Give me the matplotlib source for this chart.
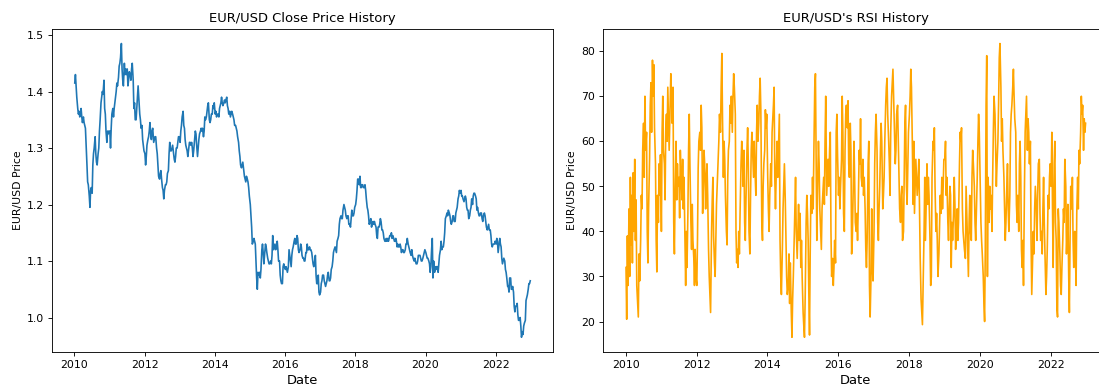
import matplotlib
matplotlib.use("Agg")
import matplotlib.pyplot as plt
import numpy as np
import pandas as pd

# Weekly-ish EUR/USD closes, 4 readings per month (Jan..Dec), one list per year
close_2010 = [1.415, 1.43, 1.41, 1.39, 1.37, 1.36, 1.365, 1.355, 1.36, 1.37, 1.355, 1.345,
              1.355, 1.345, 1.34, 1.335, 1.30, 1.27, 1.24, 1.235, 1.215, 1.195, 1.225, 1.23,
              1.22, 1.27, 1.29, 1.30, 1.32, 1.29, 1.275, 1.27, 1.29, 1.30, 1.33, 1.35,
              1.38, 1.39, 1.40, 1.395, 1.42, 1.37, 1.36, 1.33, 1.31, 1.33, 1.325, 1.33]
close_2011 = [1.33, 1.30, 1.335, 1.36, 1.37, 1.355, 1.37, 1.38, 1.39, 1.40, 1.415, 1.41,
              1.425, 1.445, 1.45, 1.46, 1.485, 1.44, 1.42, 1.41, 1.45, 1.43, 1.44, 1.43,
              1.44, 1.41, 1.42, 1.435, 1.43, 1.42, 1.44, 1.45, 1.42, 1.37, 1.38, 1.35,
              1.35, 1.37, 1.39, 1.41, 1.38, 1.36, 1.35, 1.335, 1.34, 1.315, 1.305, 1.295]
close_2012 = [1.29, 1.27, 1.285, 1.305, 1.315, 1.32, 1.33, 1.345, 1.325, 1.315, 1.33, 1.335,
              1.31, 1.315, 1.32, 1.32, 1.30, 1.29, 1.27, 1.25, 1.245, 1.255, 1.26, 1.245,
              1.23, 1.225, 1.21, 1.225, 1.235, 1.235, 1.24, 1.255, 1.26, 1.29, 1.31, 1.295,
              1.295, 1.30, 1.305, 1.295, 1.28, 1.275, 1.285, 1.30, 1.30, 1.31, 1.32, 1.32]
close_2013 = [1.31, 1.33, 1.34, 1.355, 1.365, 1.34, 1.335, 1.315, 1.305, 1.30, 1.295, 1.285,
              1.30, 1.31, 1.31, 1.305, 1.31, 1.30, 1.285, 1.295, 1.315, 1.33, 1.325, 1.305,
              1.285, 1.30, 1.315, 1.325, 1.33, 1.335, 1.33, 1.335, 1.32, 1.33, 1.355, 1.35,
              1.355, 1.365, 1.375, 1.38, 1.35, 1.345, 1.35, 1.36, 1.36, 1.375, 1.37, 1.38]
close_2014 = [1.36, 1.365, 1.355, 1.36, 1.36, 1.355, 1.37, 1.375, 1.38, 1.39, 1.38, 1.375,
              1.38, 1.385, 1.38, 1.385, 1.39, 1.375, 1.37, 1.36, 1.365, 1.355, 1.36, 1.365,
              1.36, 1.355, 1.35, 1.34, 1.34, 1.335, 1.33, 1.32, 1.31, 1.295, 1.285, 1.27,
              1.265, 1.27, 1.275, 1.265, 1.25, 1.245, 1.24, 1.25, 1.245, 1.24, 1.23, 1.215]
close_2015 = [1.20, 1.18, 1.16, 1.13, 1.135, 1.14, 1.135, 1.13, 1.10, 1.07, 1.05, 1.08,
              1.075, 1.08, 1.07, 1.085, 1.12, 1.13, 1.115, 1.095, 1.115, 1.13, 1.125, 1.115,
              1.105, 1.10, 1.095, 1.095, 1.10, 1.095, 1.11, 1.145, 1.12, 1.125, 1.13, 1.12,
              1.125, 1.135, 1.12, 1.10, 1.10, 1.075, 1.065, 1.06, 1.06, 1.09, 1.095, 1.09]
close_2016 = [1.085, 1.09, 1.085, 1.08, 1.09, 1.12, 1.11, 1.10, 1.09, 1.11, 1.12, 1.125,
              1.135, 1.14, 1.13, 1.13, 1.145, 1.14, 1.12, 1.115, 1.12, 1.13, 1.125, 1.11,
              1.105, 1.105, 1.10, 1.10, 1.115, 1.115, 1.13, 1.12, 1.12, 1.125, 1.12, 1.12,
              1.115, 1.105, 1.095, 1.09, 1.10, 1.11, 1.075, 1.06, 1.06, 1.075, 1.045, 1.04]
close_2017 = [1.045, 1.06, 1.065, 1.075, 1.075, 1.065, 1.06, 1.055, 1.06, 1.065, 1.075, 1.08,
              1.065, 1.065, 1.07, 1.085, 1.09, 1.10, 1.115, 1.12, 1.125, 1.12, 1.115, 1.135,
              1.14, 1.145, 1.165, 1.175, 1.18, 1.175, 1.175, 1.19, 1.20, 1.195, 1.19, 1.18,
              1.175, 1.18, 1.18, 1.165, 1.165, 1.16, 1.175, 1.19, 1.18, 1.18, 1.185, 1.195]
close_2018 = [1.20, 1.21, 1.225, 1.245, 1.245, 1.235, 1.25, 1.23, 1.23, 1.235, 1.235, 1.23,
              1.23, 1.235, 1.225, 1.21, 1.195, 1.19, 1.18, 1.165, 1.17, 1.175, 1.16, 1.165,
              1.17, 1.165, 1.17, 1.165, 1.16, 1.145, 1.14, 1.16, 1.16, 1.165, 1.175, 1.17,
              1.155, 1.155, 1.15, 1.14, 1.135, 1.135, 1.14, 1.135, 1.14, 1.135, 1.14, 1.145]
close_2019 = [1.145, 1.15, 1.14, 1.145, 1.14, 1.135, 1.135, 1.14, 1.135, 1.125, 1.13, 1.125,
              1.125, 1.13, 1.125, 1.115, 1.12, 1.12, 1.115, 1.115, 1.12, 1.13, 1.13, 1.14,
              1.13, 1.125, 1.12, 1.115, 1.11, 1.12, 1.11, 1.105, 1.10, 1.105, 1.10, 1.095,
              1.095, 1.10, 1.11, 1.11, 1.11, 1.105, 1.10, 1.10, 1.105, 1.11, 1.115, 1.12]
close_2020 = [1.115, 1.11, 1.105, 1.105, 1.10, 1.095, 1.08, 1.09, 1.12, 1.14, 1.07, 1.10,
              1.08, 1.09, 1.085, 1.09, 1.09, 1.08, 1.095, 1.11, 1.12, 1.135, 1.12, 1.125,
              1.125, 1.135, 1.15, 1.175, 1.18, 1.185, 1.18, 1.19, 1.185, 1.18, 1.17, 1.165,
              1.17, 1.18, 1.18, 1.17, 1.17, 1.185, 1.19, 1.195, 1.21, 1.215, 1.225, 1.22]
close_2021 = [1.225, 1.215, 1.215, 1.21, 1.205, 1.21, 1.215, 1.21, 1.195, 1.19, 1.19, 1.175,
              1.18, 1.19, 1.195, 1.21, 1.20, 1.215, 1.22, 1.22, 1.215, 1.21, 1.19, 1.195,
              1.185, 1.18, 1.18, 1.185, 1.185, 1.175, 1.17, 1.18, 1.185, 1.18, 1.17, 1.16,
              1.155, 1.16, 1.165, 1.155, 1.155, 1.145, 1.13, 1.125, 1.13, 1.13, 1.13, 1.135]
close_2022 = [1.13, 1.14, 1.135, 1.115, 1.13, 1.14, 1.13, 1.125, 1.105, 1.095, 1.10, 1.105,
              1.10, 1.085, 1.08, 1.07, 1.055, 1.055, 1.045, 1.07, 1.07, 1.05, 1.05, 1.055,
              1.045, 1.02, 1.01, 1.02, 1.02, 1.025, 1.005, 0.995, 0.995, 1.00, 0.985, 0.965,
              0.975, 0.97, 0.985, 0.99, 0.995, 1.03, 1.035, 1.04, 1.05, 1.06, 1.06, 1.065]

# RSI readings, same sampling
rsi_2010 = [32, 20.5, 39, 28, 45, 30, 52, 37, 48, 33, 53, 40, 56, 38, 47, 28, 24, 21, 35, 29,
            38, 48, 45, 58, 64, 52, 70, 58, 62, 40, 33, 45, 56, 68, 73, 62, 78, 70, 77, 63,
            55, 38, 31, 48, 42, 55, 48, 57]
rsi_2011 = [40, 62, 70, 58, 55, 47, 63, 66, 60, 72, 65, 58, 68, 75, 70, 64, 72, 42, 35, 48,
            60, 47, 55, 50, 52, 43, 58, 53, 47, 56, 45, 52, 38, 28, 40, 32, 44, 58, 66, 55,
            42, 36, 46, 38, 34, 28, 36, 30]
rsi_2012 = [28, 38, 54, 60, 62, 58, 68, 63, 44, 50, 58, 55, 45, 52, 55, 48, 36, 30, 26, 22,
            40, 47, 52, 39, 33, 30, 38, 46, 52, 56, 60, 66, 62, 72, 79.5, 65, 52, 60, 56, 48,
            40, 37, 52, 58, 60, 68, 64, 70]
rsi_2013 = [62, 70, 75, 72, 66, 40, 33, 36, 32, 40, 35, 44, 55, 60, 57, 50, 58, 42, 38, 47,
            58, 63, 55, 40, 35, 48, 58, 62, 56, 52, 60, 54, 48, 62, 68, 60, 64, 70, 74, 67,
            42, 38, 50, 55, 58, 67, 63, 66]
rsi_2014 = [52, 45, 40, 48, 55, 50, 62, 65, 68, 72, 52, 45, 55, 60, 52, 58, 66, 38, 30, 26,
            36, 45, 50, 55, 47, 38, 30, 26, 28, 35, 24, 33, 22, 16.5, 25, 30, 38, 45, 52, 40,
            34, 40, 46, 38, 44, 32, 38, 30]
rsi_2015 = [22, 19, 16.5, 25, 42, 48, 44, 38, 26, 17, 35, 48, 44, 52, 45, 58, 72, 75, 55, 38,
            52, 60, 55, 45, 40, 36, 45, 48, 52, 46, 60, 70, 48, 52, 56, 50, 58, 62, 40, 30,
            34, 28, 32, 38, 33, 62, 66, 57]
rsi_2016 = [48, 52, 45, 50, 56, 70, 62, 44, 40, 58, 66, 68, 63, 69, 55, 52, 64, 58, 35, 38,
            50, 60, 52, 42, 40, 44, 38, 45, 58, 55, 65, 52, 50, 56, 48, 52, 45, 36, 32, 38,
            55, 60, 28, 21, 30, 45, 32, 29]
rsi_2017 = [40, 55, 62, 66, 58, 42, 38, 45, 50, 58, 64, 60, 45, 48, 52, 60, 68, 72, 74, 66,
            60, 55, 48, 62, 70, 73, 76, 70, 62, 55, 58, 66, 68, 60, 52, 45, 42, 48, 50, 38,
            40, 52, 64, 68, 50, 46, 54, 62]
rsi_2018 = [66, 70, 76, 72, 58, 46, 60, 44, 50, 56, 52, 48, 52, 56, 45, 34, 25, 22, 19.3, 28,
            40, 52, 38, 45, 55, 46, 52, 48, 38, 28, 30, 52, 60, 58, 63, 50, 40, 44, 38, 30,
            35, 42, 48, 44, 52, 45, 50, 56]
rsi_2019 = [56, 60, 48, 52, 42, 38, 45, 50, 48, 32, 42, 38, 44, 52, 46, 36, 40, 45, 38, 42,
            55, 62, 60, 63, 45, 40, 38, 36, 34, 50, 44, 38, 30, 42, 48, 40, 38, 52, 58, 55,
            50, 42, 38, 44, 52, 60, 66, 62]
rsi_2020 = [50, 42, 38, 35, 30, 24, 20, 36, 68, 79, 30, 52, 42, 50, 45, 48, 40, 52, 62, 70,
            66, 58, 50, 55, 60, 68, 78.5, 81.7, 72, 60, 65, 58, 52, 45, 38, 42, 50, 55, 45, 40,
            48, 62, 66, 68, 72, 76, 70, 65]
rsi_2021 = [62, 46, 42, 48, 40, 55, 60, 52, 36, 32, 38, 28, 50, 62, 66, 70, 58, 65, 62, 55,
            60, 38, 26, 32, 40, 35, 45, 50, 45, 38, 48, 55, 56, 44, 38, 40, 35, 45, 52, 42,
            33, 26, 30, 36, 48, 45, 52, 55]
rsi_2022 = [50, 62, 45, 32, 55, 60, 42, 38, 23, 21, 45, 42, 35, 28, 26, 32, 38, 45, 42, 56,
            50, 35, 40, 46, 30, 22, 38, 50, 45, 52, 38, 32, 40, 35, 28, 44, 52, 45, 58, 55,
            62, 70, 66, 68, 58, 65, 62, 64]

years = list(range(2010, 2023))
close_by_year = [close_2010, close_2011, close_2012, close_2013, close_2014, close_2015,
                 close_2016, close_2017, close_2018, close_2019, close_2020, close_2021, close_2022]
rsi_by_year = [rsi_2010, rsi_2011, rsi_2012, rsi_2013, rsi_2014, rsi_2015, rsi_2016,
               rsi_2017, rsi_2018, rsi_2019, rsi_2020, rsi_2021, rsi_2022]
week_days = [4, 11, 18, 25]

dates = pd.DatetimeIndex([pd.Timestamp(y, m, d) for y in years
                          for m in range(1, 13) for d in week_days])
close = np.concatenate(close_by_year)
rsi = np.concatenate(rsi_by_year)

# original was a 14x5 figure, the reference is that picture shrunk to 1099 px wide
fig = plt.figure(figsize=(14, 4.945), dpi=78.5)
ax1 = fig.add_axes([0.0473, 0.0928, 0.4559, 0.8325])
ax2 = fig.add_axes([0.5487, 0.0928, 0.4600, 0.8325])  # right spine falls off the canvas

ax1.plot(dates, close)
ax1.set_title("EUR/USD Close Price History")
ax1.set_xlabel("Date", fontsize=12)
ax1.set_ylabel("EUR/USD Price")

ax2.plot(dates, rsi, color="orange")
ax2.set_title("EUR/USD's RSI History")
ax2.set_xlabel("Date", fontsize=12)
ax2.set_ylabel("EUR/USD Price")

fig.savefig("out.png", dpi=78.5)
